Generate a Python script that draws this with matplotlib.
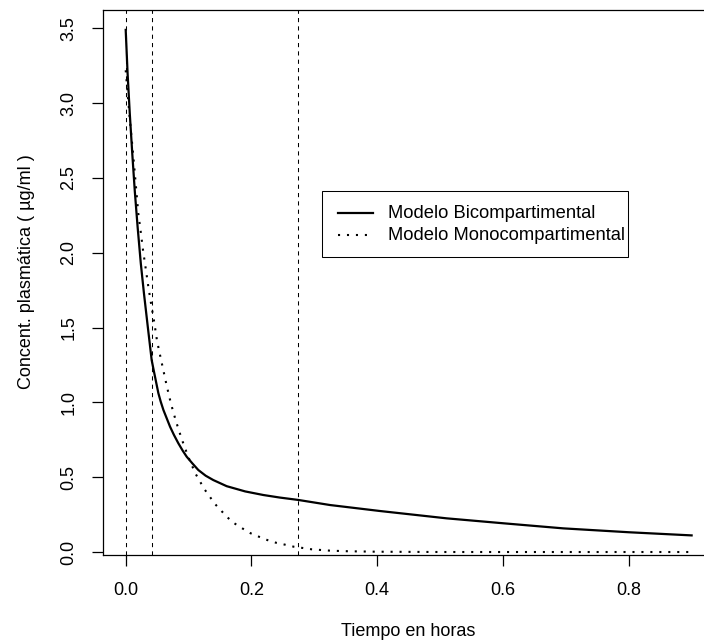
import matplotlib
matplotlib.use('Agg')
import matplotlib.pyplot as plt
from matplotlib.lines import Line2D
from matplotlib.patches import Rectangle
import numpy as np

plt.rcParams['font.family'] = ['Liberation Sans', 'DejaVu Sans']
plt.rcParams['font.size'] = 13

# curves
t_bi = [0, 0.003, 0.0065, 0.0105, 0.0145, 0.019, 0.024, 0.029, 0.035, 0.0413,
        0.0439, 0.0466, 0.0493, 0.052, 0.0557, 0.06, 0.0652, 0.0705, 0.0768, 0.0837,
        0.0907, 0.097, 0.1059, 0.1155, 0.1272, 0.1393, 0.1606, 0.19, 0.2189,
        0.245, 0.2745, 0.325, 0.4045, 0.5105, 0.6006, 0.696, 0.8005, 0.9]
c_bi = [3.49, 3.2, 2.93, 2.66, 2.41, 2.17, 1.93, 1.73, 1.51, 1.283,
        1.228, 1.172, 1.116, 1.061, 1.005, 0.949, 0.894, 0.838, 0.782, 0.727,
        0.677, 0.637, 0.593, 0.548, 0.51, 0.481, 0.44, 0.405, 0.381,
        0.364, 0.348, 0.314, 0.274, 0.225, 0.192, 0.158, 0.132, 0.111]

t_mono = [0, 0.006, 0.012, 0.0175, 0.02, 0.0239, 0.0275, 0.0318, 0.036, 0.0407,
          0.0455, 0.0498, 0.0557, 0.0652, 0.072, 0.08, 0.0891, 0.0991, 0.1107, 0.125,
          0.142, 0.1616, 0.1727, 0.1855, 0.1988, 0.212, 0.2252, 0.239, 0.2534, 0.2677,
          0.2815, 0.2958, 0.325, 0.354, 0.399, 0.5, 0.6, 0.7, 0.8, 0.9]
c_mono = [3.22, 2.92, 2.65, 2.386, 2.264, 2.141, 2.019, 1.896, 1.773, 1.651,
          1.533, 1.412, 1.295, 1.112, 0.991, 0.873, 0.755, 0.64, 0.526, 0.421,
          0.321, 0.232, 0.192, 0.158, 0.125, 0.102, 0.08, 0.062, 0.049, 0.035,
          0.027, 0.018, 0.009, 0.005, 0.002, 0.0, 0.0, 0.0, 0.0, 0.0]

v_lines = [0, 0.0413, 0.2745]

x_ticks = [0.0, 0.2, 0.4, 0.6, 0.8]
y_ticks = [0.0, 0.5, 1.0, 1.5, 2.0, 2.5, 3.0, 3.5]

legend_labels = ['Modelo Bicompartimental', 'Modelo Monocompartimental']

W, H = 704, 644


def fx(px):
    return px / W


def fy(py):
    return 1 - py / H


fig = plt.figure(figsize=(W / 100, H / 100), dpi=100)
# plot box runs past the right edge, as in the cropped original
ax = fig.add_axes([fx(103), fy(555), 611 / W, 545 / H])

bi_style = dict(color='black', lw=1.6)
mono_style = dict(color='black', lw=1.5, linestyle=(0, (1, 3.3)))

ax.plot(t_bi, c_bi, **bi_style)
ax.plot(t_mono, c_mono, **mono_style)
for v in v_lines:
    ax.axvline(v, color='black', lw=0.75, linestyle=(0, (4, 4)))

ax.set_xlim(-0.0361, 0.9356)
ax.set_ylim(-0.02, 3.623)
ax.set_xticks(x_ticks)
ax.set_xticklabels(['%.1f' % v for v in x_ticks])
ax.set_yticks(y_ticks)
ax.set_yticklabels(['%.1f' % v for v in y_ticks], rotation=90, va='center')
ax.tick_params(direction='out', length=8, width=0.9, labelsize=13)
ax.tick_params(axis='x', pad=11.5)
ax.tick_params(axis='y', pad=10.5)
for s in ax.spines.values():
    s.set_linewidth(0.9)

ax.set_xlabel('Tiempo en horas', fontsize=13)
ax.xaxis.set_label_coords(0.5003, -0.1407)
ax.xaxis.label.set_va('center')
ax.set_ylabel('Concent. plasmática ( µg/ml )', fontsize=13)
ax.yaxis.set_label_coords(-0.1245, 0.52)
ax.yaxis.label.set_va('center')

# legend box drawn R-style (wide left margin, tight right margin)
fig.patches.append(Rectangle((fx(321.7), fy(257)), (628 - 321.7) / W, 66 / H,
                             transform=fig.transFigure, facecolor='white',
                             edgecolor='black', lw=0.75, zorder=5))
for row, (label, style) in enumerate(zip(legend_labels, [bi_style, mono_style])):
    yy = fy(213 + 22.5 * row)
    fig.lines.append(Line2D([fx(338), fx(373)], [yy, yy], transform=fig.transFigure,
                            zorder=6, **style))
    fig.text(fx(388), yy, label, fontsize=13.2, va='center', ha='left', zorder=6)

fig.savefig('out.png', dpi=100)
